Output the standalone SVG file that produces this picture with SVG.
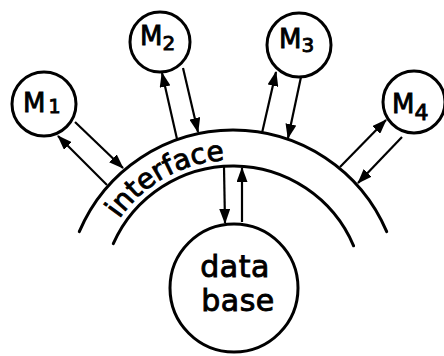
<svg xmlns="http://www.w3.org/2000/svg" width="444" height="356" viewBox="0 0 444 356">
<style>
.node{fill:#fff;stroke:#000;stroke-width:3}
.arc{fill:none;stroke:#000;stroke-width:3;stroke-linecap:round}
.conn{fill:none;stroke:#000;stroke-width:2.2;marker-end:url(#ah)}
text{font-family:"DejaVu Sans","Liberation Sans",sans-serif;fill:#000;stroke:#000;stroke-width:0.9}
.lbl{font-size:26px}
.db{font-size:30px;text-anchor:middle;letter-spacing:0.5px}
.ifc{font-size:28px}
</style>
<defs>
<marker id="ah" markerUnits="userSpaceOnUse" markerWidth="15" markerHeight="11" refX="14" refY="5.5" orient="auto">
<path d="M0,0 L15,5.5 L0,11 Z" fill="#000"/>
</marker>
<path id="ifcPath" d="M103.3,250.1 A137,137 0 0,1 300.5,178.4" fill="none"/>
</defs>
<rect width="444" height="356" fill="#fff"/>
<g id="interface">
<path class="arc" d="M79.3,231.7 A167,167 0 0,1 386.7,231.7"/>
<path class="arc" d="M113.3,243.7 A131,131 0 0,1 353.6,245.8"/>
<text class="ifc"><textPath href="#ifcPath" startOffset="35">interface</textPath></text>
</g>
<g id="connectors">
<line class="conn" x1="107" y1="185" x2="58" y2="136"/>
<line class="conn" x1="75" y1="122" x2="123" y2="168"/>
<line class="conn" x1="177" y1="139" x2="162" y2="73"/>
<line class="conn" x1="183" y1="68" x2="198" y2="132"/>
<line class="conn" x1="262" y1="133" x2="276" y2="72"/>
<line class="conn" x1="301" y1="77" x2="288" y2="138"/>
<line class="conn" x1="340" y1="167" x2="386" y2="120"/>
<line class="conn" x1="402" y1="137" x2="358" y2="183"/>
<line class="conn" x1="224" y1="167" x2="225" y2="223"/>
<line class="conn" x1="242" y1="222" x2="242" y2="168"/>
</g>
<g id="M1">
<circle class="node" cx="44" cy="104" r="32"/>
<text class="lbl" x="23" y="112">M<tspan font-size="19" dx="3" dy="1">1</tspan></text>
</g>
<g id="M2">
<circle class="node" cx="160" cy="42" r="30"/>
<text class="lbl" x="140" y="45" font-size="24">M<tspan font-size="20" dy="5">2</tspan></text>
</g>
<g id="M3">
<circle class="node" cx="299" cy="45" r="32"/>
<text class="lbl" x="279" y="48" font-size="24">M<tspan font-size="20" dy="4">3</tspan></text>
</g>
<g id="M4">
<circle class="node" cx="414" cy="102" r="31"/>
<text class="lbl" x="392" y="113">M<tspan font-size="22" dy="7">4</tspan></text>
</g>
<g id="database">
<circle class="node" cx="234" cy="288" r="64"/>
<text class="db" x="235" y="277">data</text>
<text class="db" x="238" y="311">base</text>
</g>
</svg>
